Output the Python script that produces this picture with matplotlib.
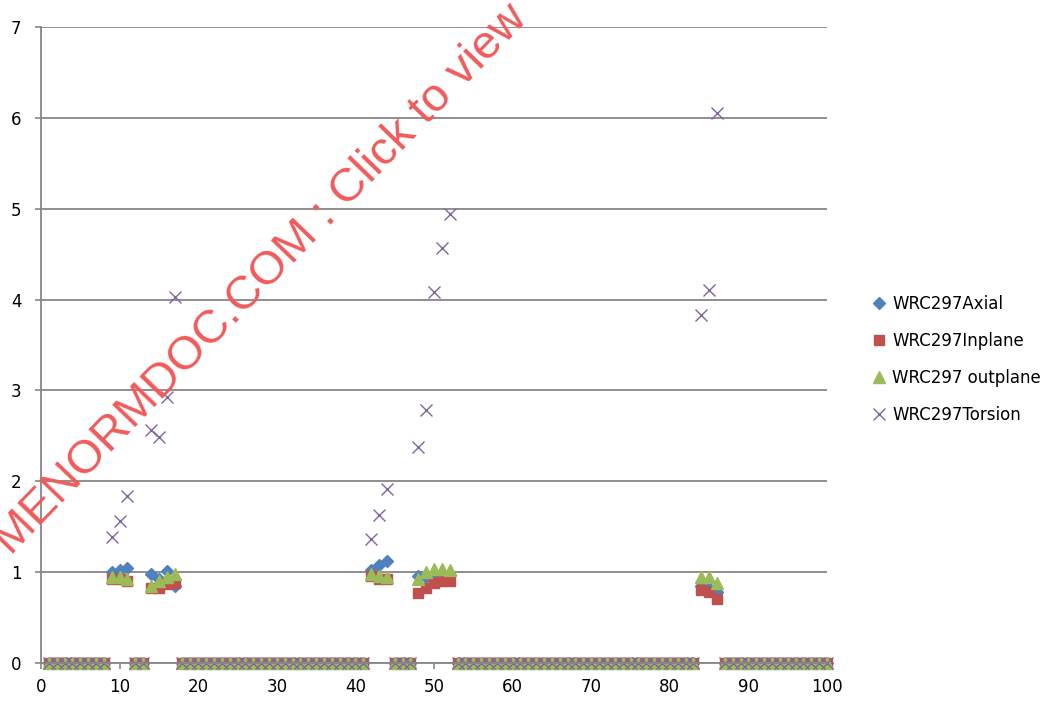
import matplotlib.pyplot as plt

# x positions with non-zero results
x_data = [9, 10, 11, 14, 15, 16, 17, 42, 43, 44, 48, 49, 50, 51, 52, 84, 85, 86]
axial = [1.00, 1.02, 1.05, 0.98, 0.93, 1.01, 0.85, 1.02, 1.08, 1.12, 0.96, 0.95, 0.97, 0.98, 0.97, 0.85, 0.83, 0.78]
inplane = [0.92, 0.93, 0.90, 0.83, 0.82, 0.87, 0.88, 0.96, 0.92, 0.92, 0.77, 0.82, 0.88, 0.90, 0.90, 0.80, 0.78, 0.70]
outplane = [0.95, 0.95, 0.92, 0.85, 0.90, 0.95, 0.98, 0.98, 0.96, 0.95, 0.92, 1.00, 1.03, 1.03, 1.02, 0.95, 0.95, 0.88]
torsion = [1.39, 1.56, 1.84, 2.56, 2.49, 2.93, 4.03, 1.36, 1.63, 1.92, 2.38, 2.78, 4.08, 4.57, 4.94, 3.83, 4.10, 6.05]

# x positions where every series is zero
x_zero = [1, 2, 3, 4, 5, 6, 7, 8, 12, 13,
          18, 19, 20, 21, 22, 23, 24, 25, 26, 27, 28, 29, 30, 31, 32, 33, 34, 35, 36, 37, 38, 39, 40, 41,
          45, 46, 47,
          53, 54, 55, 56, 57, 58, 59, 60, 61, 62, 63, 64, 65, 66, 67, 68, 69, 70, 71, 72, 73, 74, 75, 76,
          77, 78, 79, 80, 81, 82, 83,
          87, 88, 89, 90, 91, 92, 93, 94, 95, 96, 97, 98, 99, 100]

series_names = ["WRC297Axial", "WRC297Inplane", "WRC297 outplane", "WRC297Torsion"]
watermark = "MENORMDOC.COM : Click to view"

plt.rcParams['font.family'] = ['DejaVu Sans']

fig = plt.figure(figsize=(10.43, 7.03), dpi=100)
ax = fig.add_axes([41/1043, 1 - 663/703, (827-41)/1043, (663-27)/703])

xs = x_data + x_zero
zeros = [0] * len(x_zero)

ax.plot(xs, axial + zeros, linestyle='none', marker='D', markersize=6.5, color='#4F81BD', label=series_names[0])
ax.plot(xs, inplane + zeros, linestyle='none', marker='s', markersize=7.5, color='#C0504D', label=series_names[1])
ax.plot(xs, outplane + zeros, linestyle='none', marker='^', markersize=8, color='#9BBB59', label=series_names[2])
ax.plot(xs, torsion + zeros, linestyle='none', marker='x', markersize=9, markeredgewidth=1.0, color='#8064A2', label=series_names[3])

ax.set_xlim(0, 100)
ax.set_ylim(0, 7)
ax.set_xticks(range(0, 101, 10))
ax.set_yticks(range(0, 8))
ax.yaxis.grid(True, color='#868686', linewidth=1.3)
ax.set_axisbelow(True)
for s in ['top', 'right']:
    ax.spines[s].set_visible(False)
ax.spines['left'].set_color('#868686')
ax.spines['bottom'].set_color('#868686')
ax.spines['left'].set_linewidth(1.3)
ax.spines['bottom'].set_linewidth(1.3)
ax.tick_params(axis='both', colors='#868686', labelcolor='black', labelsize=12, length=4, width=1.2)
ax.tick_params(axis='y', pad=10)
ax.tick_params(axis='x', pad=7)
for line in ax.lines:
    line.set_clip_on(False)

fig.legend(loc='upper left', bbox_to_anchor=(862/1043, 1 - 288/703), frameon=False,
           fontsize=12, handletextpad=0.2, labelspacing=1.15, borderaxespad=0,
           handlelength=1.2)

# watermark
fig.text(11/1043, 1 - 556/703, watermark, color='#F05A5A', family='Liberation Sans',
         fontsize=34, rotation=46, rotation_mode='anchor', ha='left', va='baseline')

fig.savefig('out.png', dpi=100)
